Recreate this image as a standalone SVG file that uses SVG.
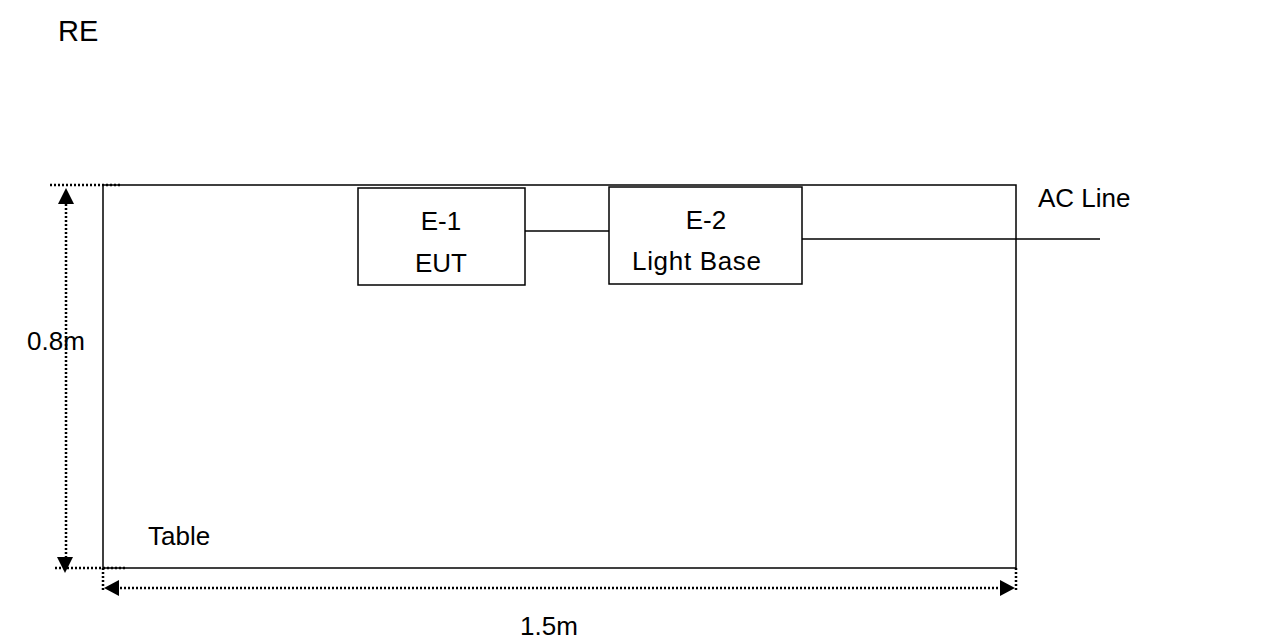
<svg xmlns="http://www.w3.org/2000/svg" width="1263" height="641" viewBox="0 0 1263 641">
<style>
  .t { font-family: "Liberation Sans", Arial, sans-serif; font-size: 26px; fill: #000; }
  .box { fill: #fff; stroke: #000; stroke-width: 1.5; }
  .ln { stroke: #000; stroke-width: 1.5; fill: none; }
  .dot { stroke: #000; stroke-width: 2.5; stroke-dasharray: 2 2; fill: none; }
  .ah { fill: #000; }
</style>
<rect width="1263" height="641" fill="#fff"/>
<text class="t" x="58" y="41" style="font-size:29px">RE</text>
<g id="table">
  <rect class="box" x="103" y="185" width="913" height="383"/>
  <text class="t" x="148" y="545">Table</text>
</g>
<g id="e1">
  <rect class="box" x="358" y="188" width="167" height="97"/>
  <text class="t" x="441" y="230" text-anchor="middle">E-1</text>
  <text class="t" x="441" y="272" text-anchor="middle">EUT</text>
</g>
<g id="e2">
  <rect class="box" x="609" y="187" width="193" height="97"/>
  <text class="t" x="706" y="229" text-anchor="middle">E-2</text>
  <text class="t" x="632" y="270" textLength="129">Light Base</text>
</g>
<g id="acline">
  <text class="t" x="1038" y="207">AC Line</text>
</g>
<g id="connectors">
  <line class="ln" x1="525" y1="231" x2="609" y2="231" stroke="#1a2a1a"/>
  <line class="ln" x1="802" y1="239" x2="1100" y2="239"/>
</g>
<g id="dimensions">
  <line class="dot" x1="50" y1="185" x2="120" y2="185"/>
  <line class="dot" x1="55" y1="568" x2="125" y2="568"/>
  <line class="dot" x1="66" y1="200" x2="66" y2="558"/>
  <polygon class="ah" points="66,188 58,204 74,204"/>
  <polygon class="ah" points="65,573 57,557 73,557"/>
  <text class="t" x="27" y="350">0.8m</text>
  <line class="dot" x1="103" y1="568" x2="103" y2="590"/>
  <line class="dot" x1="1016" y1="568" x2="1016" y2="590"/>
  <line class="dot" x1="116" y1="588" x2="1002" y2="588"/>
  <polygon class="ah" points="104,588 119,580 119,596"/>
  <polygon class="ah" points="1015,588 1000,580 1000,596"/>
  <text class="t" x="520" y="635">1.5m</text>
</g>
</svg>
